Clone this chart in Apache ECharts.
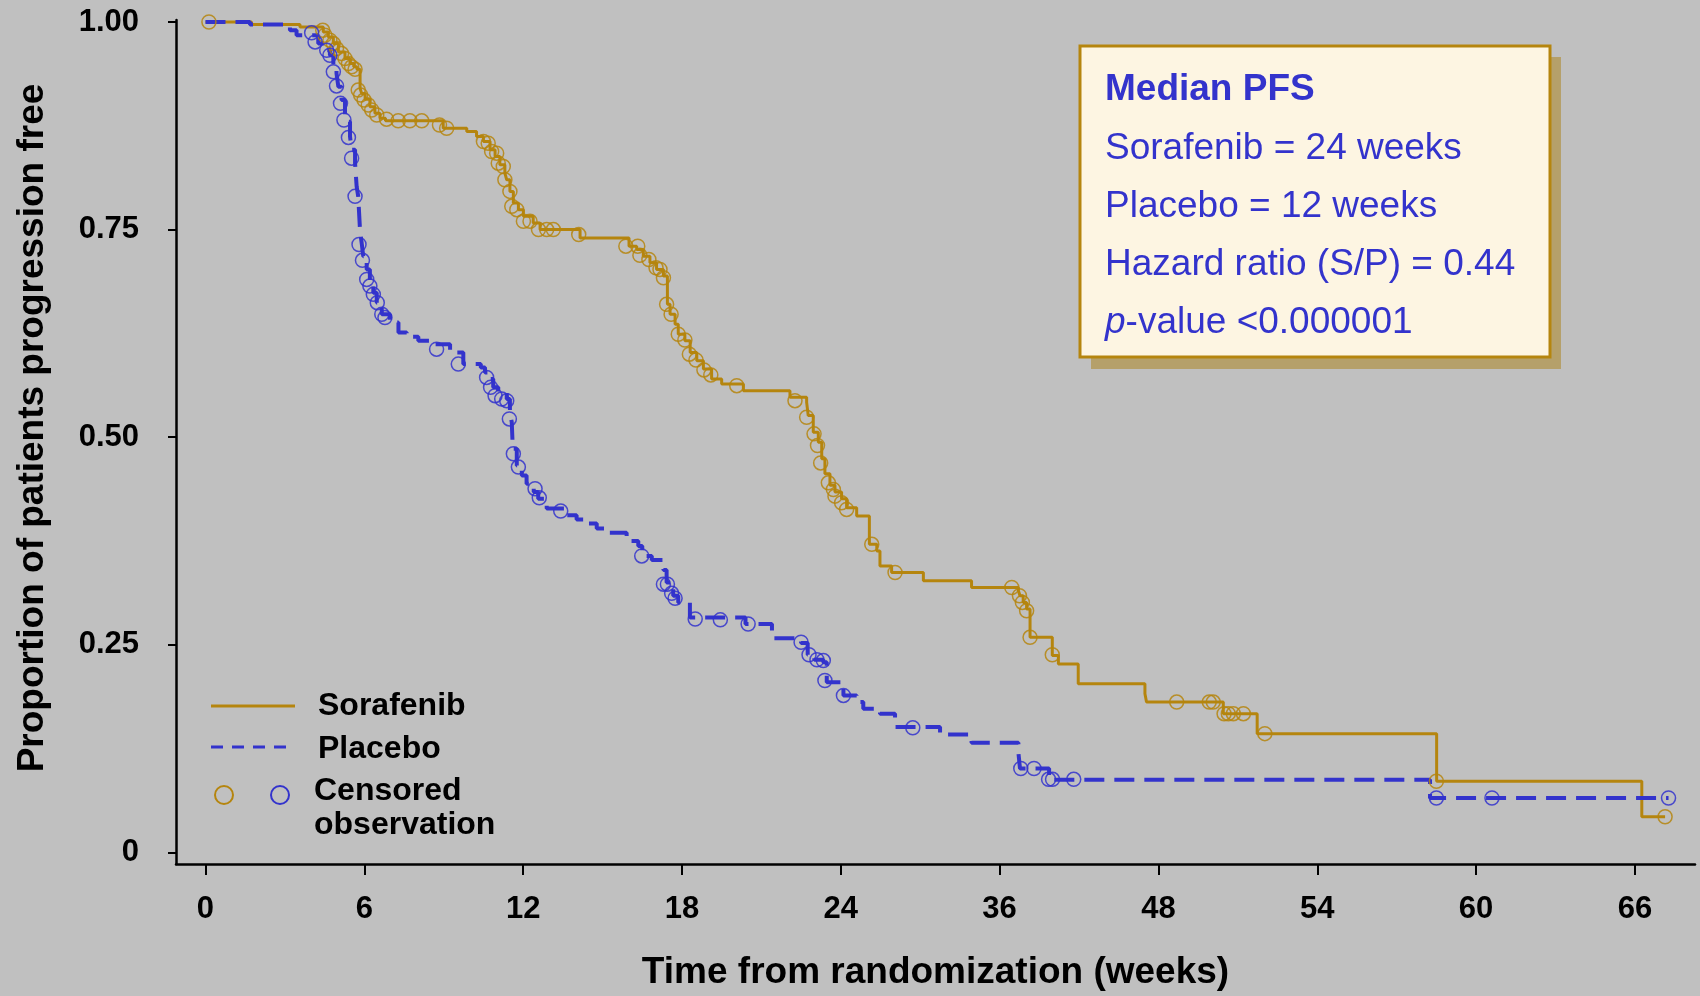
<!DOCTYPE html>
<html>
<head>
<meta charset="utf-8">
<script src="https://cdn.jsdelivr.net/npm/echarts@6/dist/echarts.min.js"></script>
<style>
html,body{margin:0;padding:0;background:#C0C0C0;}
#chart{width:1700px;height:996px;}
</style>
</head>
<body>
<div id="chart"></div>
<script>
// Tick values (axis units) and their printed labels
const xTickValues = [0, 6, 12, 18, 24, 30, 36, 42, 48, 54];
const xTickLabels = ['0', '6', '12', '18', '24', '36', '48', '54', '60', '66'];
const yTickValues = [0, 0.25, 0.5, 0.75, 1.0];
const yTickLabels = ['0', '0.25', '0.50', '0.75', '1.00'];

// Kaplan-Meier steps: [time, proportion after the drop]
const sorafenibSteps = [
  [0, 1.0], [1.74, 0.997], [3.57, 0.994], [4.45, 0.988], [4.64, 0.982], [4.83, 0.974],
  [5.02, 0.964], [5.27, 0.956], [5.46, 0.950], [5.60, 0.946], [5.72, 0.943], [5.84, 0.920],
  [5.90, 0.914], [6.03, 0.907], [6.21, 0.898], [6.40, 0.890], [6.59, 0.884], [6.80, 0.881],
  [8.98, 0.872], [9.87, 0.868], [10.24, 0.862], [10.50, 0.856], [10.75, 0.846], [10.94, 0.838],
  [11.12, 0.828], [11.31, 0.818], [11.38, 0.810], [11.50, 0.796], [11.63, 0.782], [11.82, 0.774],
  [12.01, 0.766], [12.38, 0.758], [12.64, 0.750], [14.15, 0.740], [16.0, 0.730], [16.29, 0.726],
  [16.54, 0.718], [16.79, 0.710], [17.04, 0.702], [17.30, 0.694], [17.45, 0.660], [17.55, 0.648],
  [17.74, 0.636], [17.86, 0.624], [18.11, 0.616], [18.31, 0.602], [18.56, 0.592], [18.81, 0.582],
  [19.12, 0.570], [19.50, 0.564], [20.32, 0.556], [22.08, 0.548], [22.71, 0.542], [22.77, 0.526],
  [22.96, 0.506], [23.15, 0.494], [23.28, 0.474], [23.40, 0.456], [23.59, 0.442], [23.78, 0.434],
  [24.03, 0.426], [24.22, 0.415], [24.60, 0.405], [25.08, 0.371], [25.36, 0.363], [25.48, 0.345],
  [25.92, 0.337], [27.12, 0.327], [28.94, 0.319], [30.71, 0.315], [30.77, 0.309], [30.89, 0.301],
  [31.02, 0.293], [31.15, 0.259], [31.99, 0.237], [32.22, 0.227], [32.97, 0.203], [35.49, 0.191],
  [35.55, 0.181], [38.45, 0.167], [39.73, 0.143], [46.51, 0.0857], [54.26, 0.0429], [55.14, 0.0429]
];
const placeboSteps = [
  [0, 1.0], [1.68, 0.997], [3.19, 0.990], [3.44, 0.984], [4.26, 0.974], [4.58, 0.966],
  [4.70, 0.960], [4.83, 0.942], [4.95, 0.938], [5.02, 0.922], [5.14, 0.906], [5.27, 0.886],
  [5.33, 0.880], [5.46, 0.862], [5.52, 0.846], [5.65, 0.830], [5.71, 0.802], [5.77, 0.790],
  [5.84, 0.748], [5.90, 0.734], [5.96, 0.718], [6.09, 0.702], [6.21, 0.686], [6.34, 0.674],
  [6.47, 0.662], [6.66, 0.648], [6.97, 0.638], [7.29, 0.626], [7.60, 0.621], [8.04, 0.616],
  [8.60, 0.612], [9.24, 0.602], [9.74, 0.588], [10.40, 0.584], [10.56, 0.578], [10.70, 0.570],
  [10.87, 0.560], [11.06, 0.554], [11.38, 0.546], [11.50, 0.530], [11.57, 0.518], [11.61, 0.486],
  [11.76, 0.466], [11.95, 0.454], [12.13, 0.444], [12.40, 0.434], [12.57, 0.426], [12.89, 0.414],
  [13.65, 0.406], [14.02, 0.401], [14.40, 0.396], [14.78, 0.390], [15.22, 0.385], [15.91, 0.375],
  [16.35, 0.369], [16.50, 0.357], [16.86, 0.352], [17.30, 0.340], [17.42, 0.325], [17.67, 0.309],
  [17.86, 0.301], [18.30, 0.283], [20.40, 0.275], [21.40, 0.258], [22.50, 0.252], [22.75, 0.238],
  [23.00, 0.232], [23.34, 0.229], [23.47, 0.205], [24.10, 0.189], [24.60, 0.181], [24.85, 0.173],
  [25.48, 0.167], [26.05, 0.151], [27.75, 0.142], [28.94, 0.132], [30.71, 0.120], [30.77, 0.101],
  [31.87, 0.0875], [46.26, 0.0655], [55.27, 0.0655]
];

// Censored observations: [time, proportion]
const sorafenibCensored = [
  [0.13, 1.0], [4.43, 0.990], [4.51, 0.984], [4.70, 0.978], [4.83, 0.974], [4.95, 0.968],
  [5.14, 0.962], [5.27, 0.956], [5.40, 0.950], [5.52, 0.946], [5.65, 0.943], [5.77, 0.918],
  [5.86, 0.912], [5.99, 0.906], [6.15, 0.900], [6.28, 0.894], [6.47, 0.888], [6.84, 0.883],
  [7.28, 0.881], [7.72, 0.881], [8.17, 0.881], [8.84, 0.876], [9.11, 0.872], [10.50, 0.856],
  [10.68, 0.854], [10.81, 0.844], [11.00, 0.842], [11.06, 0.830], [11.25, 0.826], [11.31, 0.810],
  [11.50, 0.796], [11.57, 0.778], [11.76, 0.774], [12.01, 0.760], [12.26, 0.760], [12.58, 0.750],
  [12.89, 0.750], [13.14, 0.750], [14.10, 0.744], [15.88, 0.730], [16.33, 0.730], [16.41, 0.719],
  [16.75, 0.714], [17.02, 0.704], [17.17, 0.702], [17.30, 0.692], [17.42, 0.660], [17.59, 0.648],
  [17.86, 0.624], [18.11, 0.617], [18.28, 0.600], [18.53, 0.593], [18.83, 0.581], [19.09, 0.575],
  [20.07, 0.562], [22.27, 0.544], [22.71, 0.524], [22.99, 0.504], [23.12, 0.490], [23.24, 0.469],
  [23.53, 0.445], [23.72, 0.437], [23.78, 0.429], [24.03, 0.421], [24.22, 0.413], [25.17, 0.371],
  [26.05, 0.337], [30.46, 0.319], [30.75, 0.309], [30.86, 0.301], [31.02, 0.291], [31.15, 0.259],
  [31.99, 0.238], [36.69, 0.181], [37.92, 0.181], [38.07, 0.181], [38.48, 0.167], [38.64, 0.167],
  [38.83, 0.167], [39.21, 0.167], [40.02, 0.143], [46.50, 0.0857], [55.14, 0.0429]
];
const placeboCensored = [
  [4.01, 0.987], [4.14, 0.976], [4.58, 0.966], [4.70, 0.960], [4.83, 0.940], [4.95, 0.923],
  [5.10, 0.902], [5.23, 0.882], [5.40, 0.861], [5.52, 0.836], [5.65, 0.790], [5.80, 0.732],
  [5.93, 0.713], [6.09, 0.690], [6.21, 0.682], [6.34, 0.672], [6.49, 0.662], [6.66, 0.648],
  [6.78, 0.644], [8.73, 0.606], [9.55, 0.588], [10.62, 0.572], [10.77, 0.560], [10.94, 0.550],
  [11.19, 0.546], [11.38, 0.544], [11.48, 0.522], [11.63, 0.480], [11.82, 0.464], [12.45, 0.438],
  [12.61, 0.427], [13.42, 0.411], [16.48, 0.357], [17.30, 0.323], [17.45, 0.323], [17.61, 0.312],
  [17.74, 0.306], [18.50, 0.281], [19.45, 0.280], [20.50, 0.275], [22.50, 0.253], [22.80, 0.238],
  [23.10, 0.232], [23.34, 0.231], [23.40, 0.207], [24.10, 0.189], [26.72, 0.150], [30.80, 0.101],
  [31.30, 0.101], [31.85, 0.088], [32.00, 0.088], [32.80, 0.088], [46.50, 0.0655], [48.60, 0.0655],
  [55.27, 0.0655]
];

const GOLD = '#B5850E';
const BLUE = '#3333CC';
const FONT = "'Liberation Sans', Arial, sans-serif";

const chart = echarts.init(document.getElementById('chart'), null, {renderer: 'canvas'});
chart.setOption({
  backgroundColor: '#C0C0C0',
  animation: false,
  grid: {left: 176, right: 5, top: 20, bottom: 129, containLabel: false},
  xAxis: {
    type: 'value', min: -1.114, max: 56.27,
    name: 'Time from randomization (weeks)', nameLocation: 'middle', nameGap: 90,
    nameTextStyle: {fontFamily: FONT, fontWeight: 'bold', fontSize: 37, color: '#000'},
    axisLine: {show: true, onZero: false, lineStyle: {color: '#000', width: 2.5}},
    axisTick: {show: true, length: 11, lineStyle: {color: '#000', width: 2}, customValues: xTickValues},
    axisLabel: {show: true, margin: 30, fontFamily: FONT, fontWeight: 'bold', fontSize: 31, color: '#000',
      customValues: xTickValues,
      formatter: function (v) { const i = xTickValues.indexOf(v); return i >= 0 ? xTickLabels[i] : ''; }},
    splitLine: {show: false}
  },
  yAxis: {
    type: 'value', min: -0.014, max: 1.0024,
    name: 'Proportion of patients progression free', nameLocation: 'middle', nameGap: 125, nameRotate: 90,
    nameTextStyle: {fontFamily: FONT, fontWeight: 'bold', fontSize: 37, color: '#000', padding: [0, 0, 0, 28]},
    axisLine: {show: true, onZero: false, lineStyle: {color: '#000', width: 2.5}},
    axisTick: {show: true, length: 8, lineStyle: {color: '#000', width: 2}, customValues: yTickValues},
    axisLabel: {show: true, margin: 37, fontFamily: FONT, fontWeight: 'bold', fontSize: 31, color: '#000',
      customValues: yTickValues,
      formatter: function (v) { const i = yTickValues.indexOf(v); return i >= 0 ? yTickLabels[i] : ''; }},
    splitLine: {show: false}
  },
  series: [
    {name: 'Sorafenib', type: 'line', step: 'end', data: sorafenibSteps, showSymbol: false,
      lineStyle: {color: GOLD, width: 3}, z: 3},
    {name: 'Placebo', type: 'line', step: 'end', data: placeboSteps, showSymbol: false,
      lineStyle: {color: BLUE, width: 4, type: [20, 10]}, z: 4},
    {name: 'Sorafenib censored', type: 'scatter', data: sorafenibCensored, symbol: 'circle', symbolSize: 14,
      itemStyle: {color: 'rgba(0,0,0,0)', borderColor: GOLD, borderWidth: 1.5, opacity: 0.85}, z: 5},
    {name: 'Placebo censored', type: 'scatter', data: placeboCensored, symbol: 'circle', symbolSize: 14,
      itemStyle: {color: 'rgba(0,0,0,0)', borderColor: BLUE, borderWidth: 1.5, opacity: 0.85}, z: 6}
  ],
  graphic: [
    // legend
    {type: 'line', shape: {x1: 211, y1: 706, x2: 295, y2: 706}, style: {stroke: GOLD, lineWidth: 3}},
    {type: 'line', shape: {x1: 211, y1: 747, x2: 295, y2: 747}, style: {stroke: BLUE, lineWidth: 3, lineDash: [12, 9]}},
    {type: 'circle', shape: {cx: 224, cy: 795, r: 9}, style: {fill: 'none', stroke: GOLD, lineWidth: 2}},
    {type: 'circle', shape: {cx: 280, cy: 795, r: 9}, style: {fill: 'none', stroke: BLUE, lineWidth: 2}},
    {type: 'text', x: 318, y: 706, style: {text: 'Sorafenib', font: "bold 32px 'Liberation Sans', Arial", fill: '#000', verticalAlign: 'middle'}},
    {type: 'text', x: 318, y: 749, style: {text: 'Placebo', font: "bold 32px 'Liberation Sans', Arial", fill: '#000', verticalAlign: 'middle'}},
    {type: 'text', x: 314, y: 791, style: {text: 'Censored', font: "bold 32px 'Liberation Sans', Arial", fill: '#000', verticalAlign: 'middle'}},
    {type: 'text', x: 314, y: 825, style: {text: 'observation', font: "bold 32px 'Liberation Sans', Arial", fill: '#000', verticalAlign: 'middle'}},
    // annotation box
    {type: 'rect', shape: {x: 1091, y: 57, width: 470, height: 312}, style: {fill: '#B5A06A'}},
    {type: 'rect', shape: {x: 1080, y: 46, width: 470, height: 311}, style: {fill: '#FDF5E2', stroke: '#B5850E', lineWidth: 3}},
    {type: 'text', x: 1105, y: 90, style: {text: 'Median PFS', font: "bold 37px 'Liberation Sans', Arial", fill: BLUE, verticalAlign: 'middle'}},
    {type: 'text', x: 1105, y: 149, style: {text: 'Sorafenib = 24 weeks', font: "37px 'Liberation Sans', Arial", fill: BLUE, verticalAlign: 'middle'}},
    {type: 'text', x: 1105, y: 207, style: {text: 'Placebo = 12 weeks', font: "37px 'Liberation Sans', Arial", fill: BLUE, verticalAlign: 'middle'}},
    {type: 'text', x: 1105, y: 265, style: {text: 'Hazard ratio (S/P) = 0.44', font: "37px 'Liberation Sans', Arial", fill: BLUE, verticalAlign: 'middle'}},
    {type: 'text', x: 1105, y: 323, style: {text: '{i|p}-value <0.000001', font: "37px 'Liberation Sans', Arial", fill: BLUE, verticalAlign: 'middle',
      rich: {i: {fontStyle: 'italic', fontFamily: "'Liberation Sans', Arial", fontSize: 37, fill: BLUE}}}}
  ]
});
</script>
</body>
</html>
